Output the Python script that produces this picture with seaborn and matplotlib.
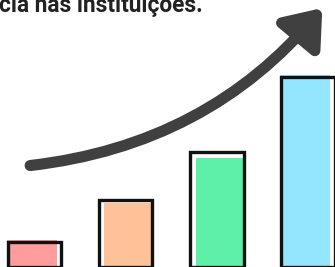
import matplotlib
matplotlib.use("Agg")
import matplotlib.pyplot as plt
import seaborn as sns
import pandas as pd

# data
steps = ["1", "2", "3", "4"]
outline_heights = [25, 67, 115, 190]
fill_heights = [27, 64, 109, 192]
bar_colors = ["#ff9c9c", "#ffc296", "#5ef0a8", "#94e6ff"]
caption = "cia nas instituições."

df = pd.DataFrame({"step": steps, "outline": outline_heights, "fill": fill_heights})

sns.set_theme(style="white")
plt.rcParams["font.family"] = ["Roboto", "DejaVu Sans"]

fig = plt.figure(figsize=(3.35, 2.67), dpi=100)
ax = fig.add_axes([0, 0, 1, 1])

# coloured fills, without edge
sns.barplot(data=df, x="step", y="fill", hue="step", palette=bar_colors,
            legend=False, width=0.55, saturation=1, linewidth=0, ax=ax)
# slight hand-drawn offset of the fills
for p, dx in zip(ax.patches, [-0.03, 0.04, 0.05, -0.03]):
    p.set_x(p.get_x() + dx)

# black outlines on top
sns.barplot(data=df, x="step", y="outline", width=0.59, fill=False,
            color="black", linewidth=2.4, ax=ax, err_kws={"linewidth": 0})
for p in ax.patches[4:]:
    p.set_edgecolor("#111111")
    p.set_facecolor("none")

ax.set_xlim(-0.38, 3.30)
ax.set_ylim(0, 267)
ax.axis("off")

# curved arrow
ax.annotate("", xy=(0.962, 0.97), xytext=(0.09, 0.38),
            xycoords="axes fraction", textcoords="axes fraction",
            arrowprops=dict(arrowstyle="-|>,head_length=1.7,head_width=1.3",
                            connectionstyle="arc3,rad=0.2",
                            color="#404040", linewidth=8, capstyle="round",
                            shrinkA=0, shrinkB=0))

fig.text(-0.004, 1 - 12 / 267, caption, fontsize=16.3, fontweight="bold",
         color="#222222", va="baseline", ha="left")

fig.savefig("out.png", dpi=100)
